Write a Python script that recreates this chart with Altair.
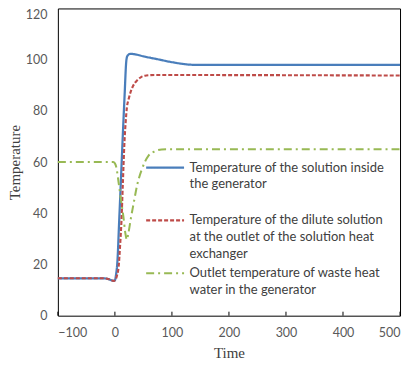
import altair as alt
import pandas as pd

# ---- data ----
series_names = [
    "Temperature of the solution inside|the generator|",
    "Temperature of the dilute solution|at the outlet of the solution heat|exchanger",
    "Outlet temperature of waste heat|water in the generator",
]

gen_x = [-100, -20, -10, -3, 0, 2, 4.5, 7.5, 10, 13.4, 17, 20, 22, 27, 35, 50, 74, 103, 138, 200, 500]
gen_y = [14.6, 14.6, 14.2, 13.6, 13.8, 16, 21.5, 37, 50, 68, 86, 99.5, 101.5, 102.3, 102.1, 101.3, 100.2, 98.9, 98.0, 98.0, 98.0]

dil_x = [-100, -20, -10, -2, 1, 4, 6.5, 9, 11.5, 14, 16.8, 19, 21, 24, 27, 32, 39, 46, 55, 70, 500]
dil_y = [14.6, 14.6, 14.2, 13.6, 14.0, 16, 19, 27, 37, 52, 68, 76, 81.3, 84.5, 87, 89.8, 91.9, 93.2, 93.8, 94.0, 93.8]

wat_x = [-100, -3, 0, 2.5, 6.5, 10.5, 15, 18.5, 21, 23.5, 28, 33, 39, 47, 59, 70, 82, 95, 500]
wat_y = [60, 60, 59.5, 58, 52, 45.5, 38.5, 32, 29.7, 32, 38, 44, 51, 57, 62.5, 64.2, 64.9, 65, 65]

x_ticks = [-100, 0, 100, 200, 300, 400, 500]
y_ticks = [0, 20, 40, 60, 80, 100, 120]

line_colors = ["#4A7EBB", "#BE4B48", "#98B954"]
line_dashes = [[1, 0], [4, 2], [8, 4, 2, 4]]
line_widths = [2.25, 2.0, 1.75]

rows = []
for name, xs, ys in zip(series_names, [gen_x, dil_x, wat_x], [gen_y, dil_y, wat_y]):
    for xv, yv in zip(xs, ys):
        rows.append({"time": xv, "temp": yv, "series": name})
df = pd.DataFrame(rows)
ticks_df = pd.DataFrame({"time": x_ticks})

x_scale = alt.Scale(domain=[-100, 500], nice=False, zero=False)
y_scale = alt.Scale(domain=[0, 120], nice=False)

legend = alt.Legend(
    title=None, orient="none", legendX=101, legendY=153,
    symbolType="M-4,0H4", symbolSize=90.25, symbolStrokeWidth=2,
    labelExpr="split(datum.label, '|')",
    labelFont="Lato", labelFontSize=13, labelColor="#404040",
    labelBaseline="middle", labelOffset=18, labelLimit=400,
    rowPadding=5, padding=0, symbolOffset=0,
)

lines = alt.Chart(df).mark_line(interpolate="monotone").encode(
    x=alt.X("time:Q", scale=x_scale,
            axis=alt.Axis(values=x_ticks, title="Time", ticks=False, domain=False, grid=False,
                          labelPadding=11, titlePadding=6)),
    y=alt.Y("temp:Q", scale=y_scale,
            axis=alt.Axis(values=y_ticks, title="Temperature", ticks=False, domain=False, grid=False,
                          labelPadding=11, titlePadding=3,
                          labelBaseline=alt.condition("datum.value == 120", alt.value("top"), alt.value("middle")))),
    color=alt.Color("series:N", scale=alt.Scale(domain=series_names, range=line_colors), legend=legend),
    strokeDash=alt.StrokeDash("series:N", scale=alt.Scale(domain=series_names, range=line_dashes), legend=legend),
    strokeWidth=alt.StrokeWidth("series:N", scale=alt.Scale(domain=series_names, range=line_widths), legend=None),
)

tick_marks = alt.Chart(ticks_df).mark_rule(color="black", strokeWidth=1).encode(
    x=alt.X("time:Q", scale=x_scale),
    y=alt.value(308),
    y2=alt.value(304),
)

chart = alt.layer(lines, tick_marks).properties(
    width=343, height=308,
    autosize=alt.AutoSizeParams(type="none"),
    padding={"left": 50, "top": 0, "right": 8, "bottom": 51},
).configure(
    style={"guide-label": {"lineHeight": 17}},
    view=alt.ViewConfig(stroke="black", strokeWidth=1),
    axis=alt.AxisConfig(
        labelFont="Lato", labelFontSize=12.5, labelColor="#595959",
        titleFont="Liberation Serif", titleFontSize=15, titleFontWeight="normal", titleColor="#404040",
    ),
)

chart.save("out.html", embed_options={"renderer": "svg", "actions": False})
